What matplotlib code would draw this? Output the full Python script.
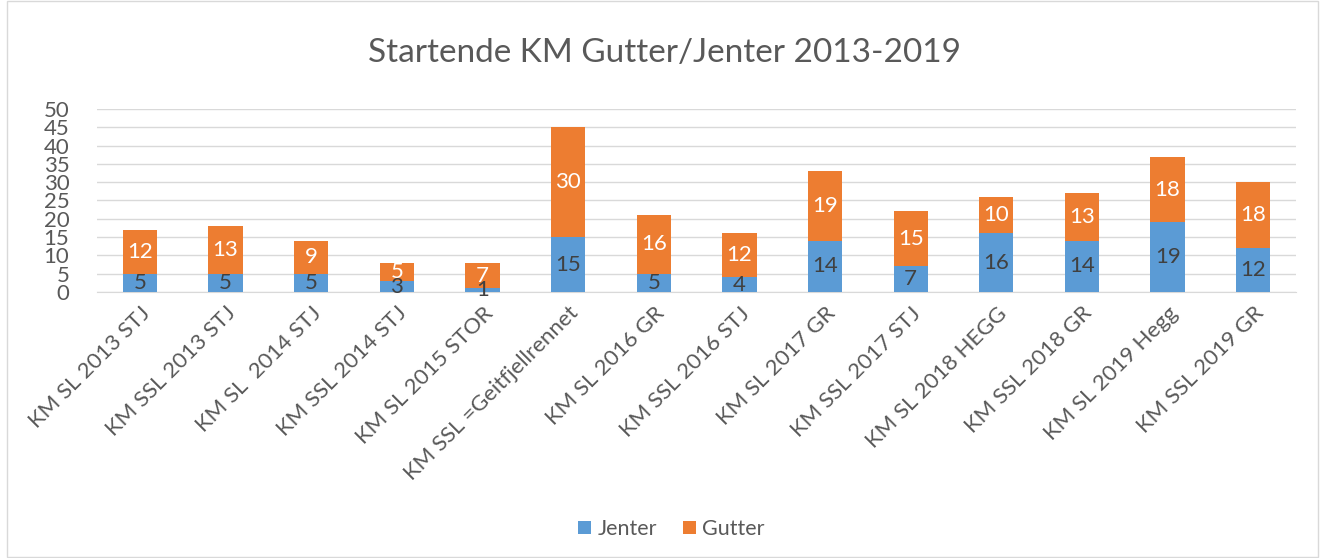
import numpy as np
import matplotlib
matplotlib.use("Agg")
from matplotlib import pyplot as plt
from matplotlib.patches import Rectangle

categories = ["KM SL 2013 STJ", "KM SSL 2013 STJ", "KM SL  2014 STJ", "KM SSL 2014 STJ",
              "KM SL 2015 STOR", "KM SSL =Geitfjellrennet", "KM SL 2016 GR", "KM SSL 2016 STJ",
              "KM SL 2017 GR", "KM SSL 2017 STJ", "KM SL 2018 HEGG", "KM SSL 2018 GR",
              "KM SL 2019 Hegg", "KM SSL 2019 GR"]
jenter = [5, 5, 5, 3, 1, 15, 5, 4, 14, 7, 16, 14, 19, 12]
gutter = [12, 13, 9, 5, 7, 30, 16, 12, 19, 15, 10, 13, 18, 18]

plt.rcParams['font.family'] = ['Lato', 'DejaVu Sans']
grey = "#595959"

fig = plt.figure(figsize=(13.3, 5.58), dpi=100)
fig.patches.append(Rectangle((0.005, 0.002), 0.986, 0.996, transform=fig.transFigure,
                             fill=False, edgecolor="#d9d9d9", linewidth=1))
ax = fig.add_axes([0.073, 0.4767, 0.9015, 0.328])

x = np.arange(len(categories))
b1 = ax.bar(x, jenter, width=0.4, color="#5b9bd5", label="Jenter", zorder=3)
b2 = ax.bar(x, gutter, width=0.4, bottom=jenter, color="#ed7d31", label="Gutter", zorder=3)

for i in range(len(x)):
    ax.text(x[i], jenter[i] / 2, str(jenter[i]), ha="center", va="center",
            fontsize=16, color="#404040", zorder=4)
    ax.text(x[i], jenter[i] + gutter[i] / 2, str(gutter[i]), ha="center", va="center",
            fontsize=16, color="white", zorder=4)

ax.set_xlim(-0.5, len(x) - 0.5)
ax.set_ylim(0, 50)
ax.set_yticks(range(0, 51, 5))
ax.yaxis.grid(True, color="#d9d9d9", linewidth=1, zorder=0)
for s in ["top", "right", "left"]:
    ax.spines[s].set_visible(False)
ax.spines["bottom"].set_color("#d9d9d9")
ax.tick_params(axis="both", length=0, labelsize=16, colors=grey)
ax.tick_params(axis="y", pad=20)
ax.set_xticks(x)
ax.set_xticklabels(categories, rotation=45, ha="right", rotation_mode="anchor")
ax.tick_params(axis="x", pad=8)

fig.text(0.5, 0.905, "Startende KM Gutter/Jenter 2013-2019", ha="center", va="center",
         fontsize=24, color=grey)

fig.legend(handles=[b1, b2], loc="center", bbox_to_anchor=(0.505, 0.052), ncol=2,
           frameon=False, fontsize=15.5, labelcolor=grey, handlelength=0.6,
           handleheight=0.6, handletextpad=0.3, columnspacing=1.2)

fig.savefig("out.png", dpi=100)
